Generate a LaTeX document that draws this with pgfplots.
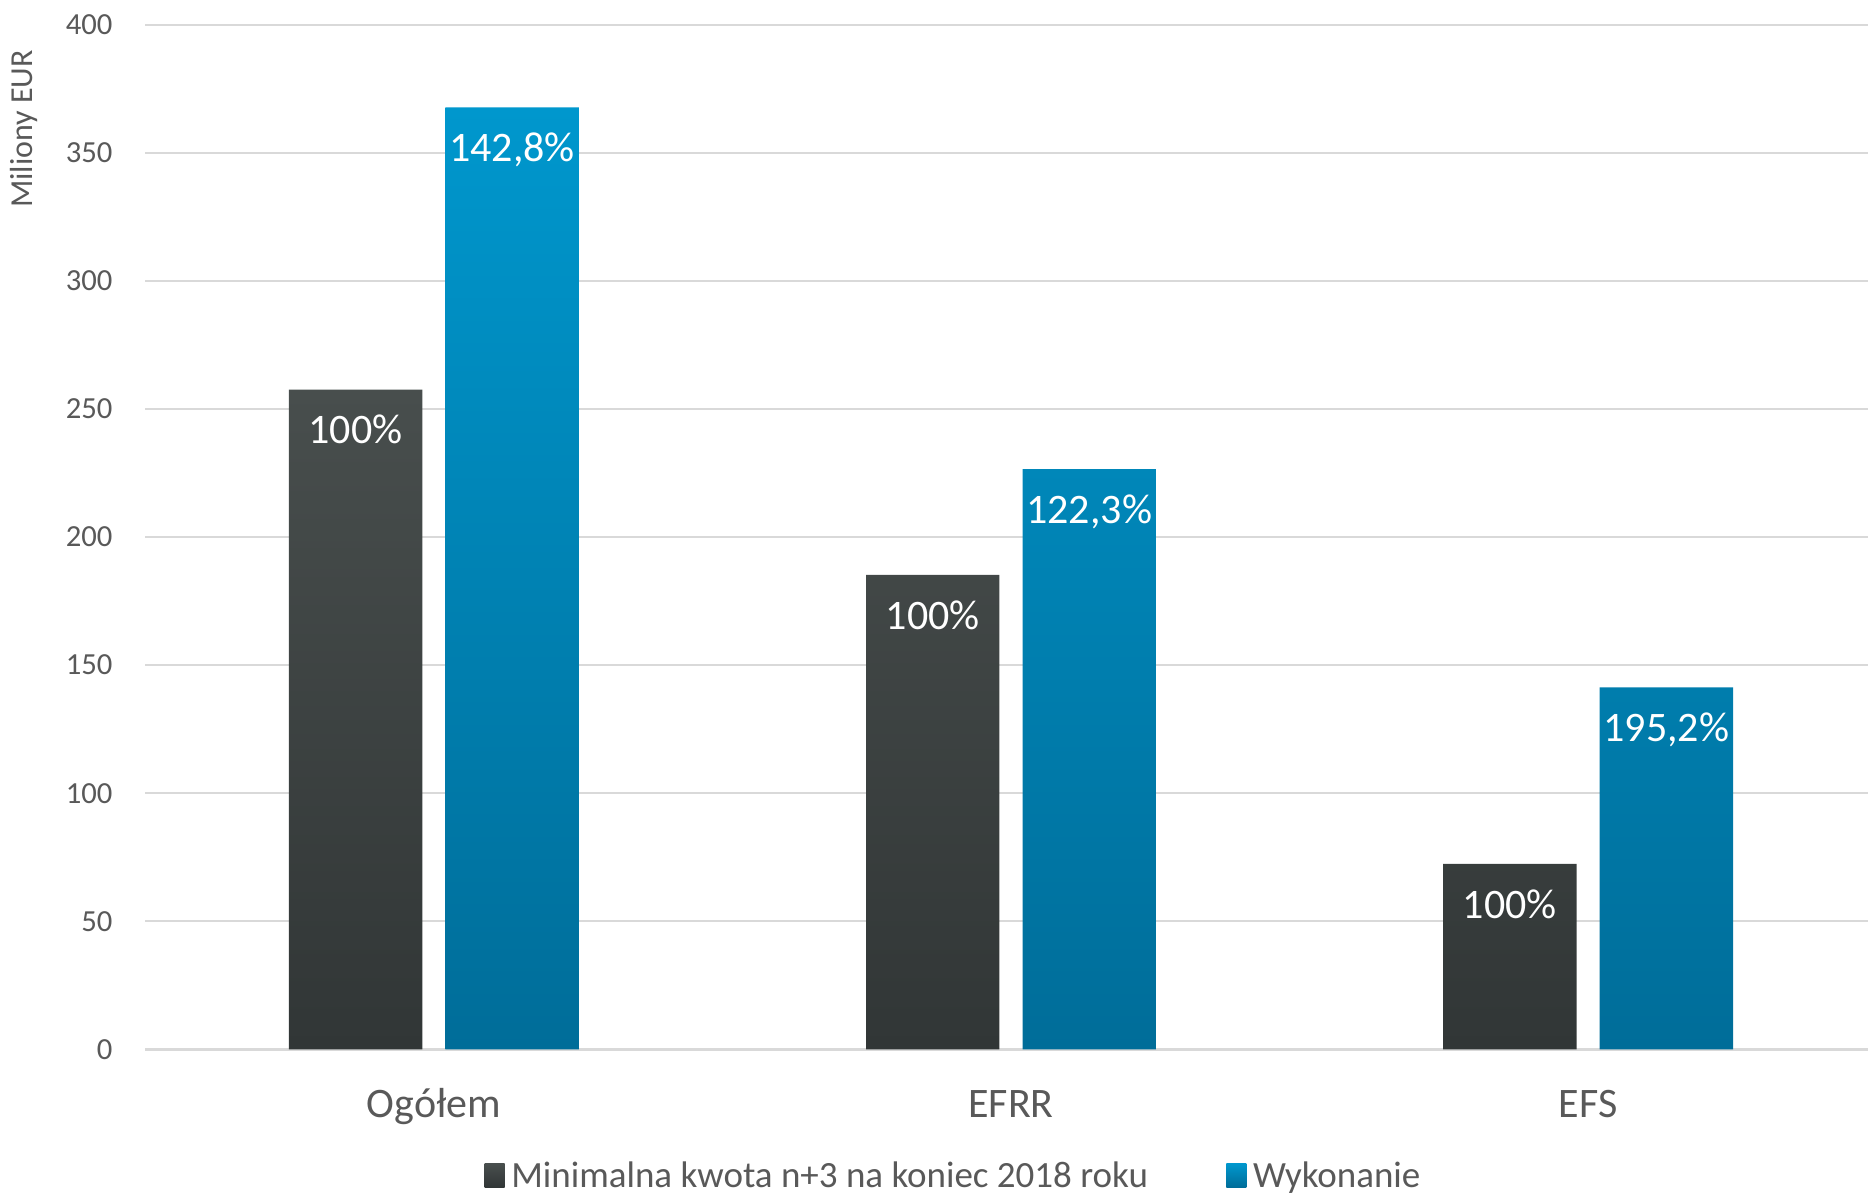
\documentclass[border=0pt]{standalone}
\usepackage{fontspec}
\setmainfont{Carlito}
\usepackage{pgfplots}
\pgfplotsset{compat=1.18}
\definecolor{dkT}{HTML}{484E4D}
\definecolor{dkB}{HTML}{313636}
\definecolor{blT}{HTML}{0097CD}
\definecolor{blB}{HTML}{006D99}
\definecolor{txt}{HTML}{595959}
\definecolor{grd}{HTML}{D9D9D9}
\begin{document}
\begin{tikzpicture}
\begin{axis}[name=ax, scale only axis, width=516.8pt, height=307.4pt,
  xmin=-0.5, xmax=2.485, ymin=0, ymax=400,
  ytick={0,50,...,400}, xtick={0,1,2}, xticklabels={Ogółem,EFRR,EFS},
  ymajorgrids, grid style={grd, line width=0.7pt},
  axis line style={draw=none}, major tick length=0pt,
  /pgf/number format/assume math mode=true,
  tick label style={text=txt},
  yticklabel style={font=\fontsize{9.2}{11}\selectfont, xshift=-6.3pt},
  xticklabel style={font=\fontsize{12.6}{15}\selectfont, text height=9pt, text depth=3pt, yshift=-8pt},
  clip=false,
  bar width=0.231,
  point meta=explicit symbolic,
  nodes near coords,
  nodes near coords style={anchor=north, yshift=-4.1pt, text=white, font=\fontsize{12.6}{15}\selectfont},
  legend columns=2,
  legend style={draw=none, fill=none, at={(0.4705,-0.1246)}, anchor=center,
    font=\fontsize{11.1}{13}\selectfont, text=txt,
    /tikz/every even column/.append style={column sep=21.5pt}},
  legend image code/.code={\path[#1,draw=none] (0pt,-3.0pt) rectangle (6pt,4pt);},
]
\addplot[ybar, bar shift=0pt, draw=none, top color=dkT, bottom color=dkB]
  coordinates {(-0.1356,257.5)[100\%] (0.8644,185.2)[100\%] (1.8644,72.4)[100\%]};
\addplot[ybar, bar shift=0pt, draw=none, top color=blT, bottom color=blB]
  coordinates {(0.1356,367.7)[142,8\%] (1.1356,226.5)[122,3\%] (2.1356,141.3)[195,2\%]};
\legend{Minimalna kwota n+3 na koniec 2018 roku, Wykonanie}
\node[rotate=90, font=\fontsize{9.6}{11}\selectfont, text=txt] at (rel axis cs:-0.0704,0.8982) {Miliony EUR};
\end{axis}
\pgfresetboundingbox
\path ([shift={(-43.59pt,-43.71pt)}]ax.south west) rectangle ([shift={(0pt,7.41pt)}]ax.north east);
\end{tikzpicture}
\end{document}
